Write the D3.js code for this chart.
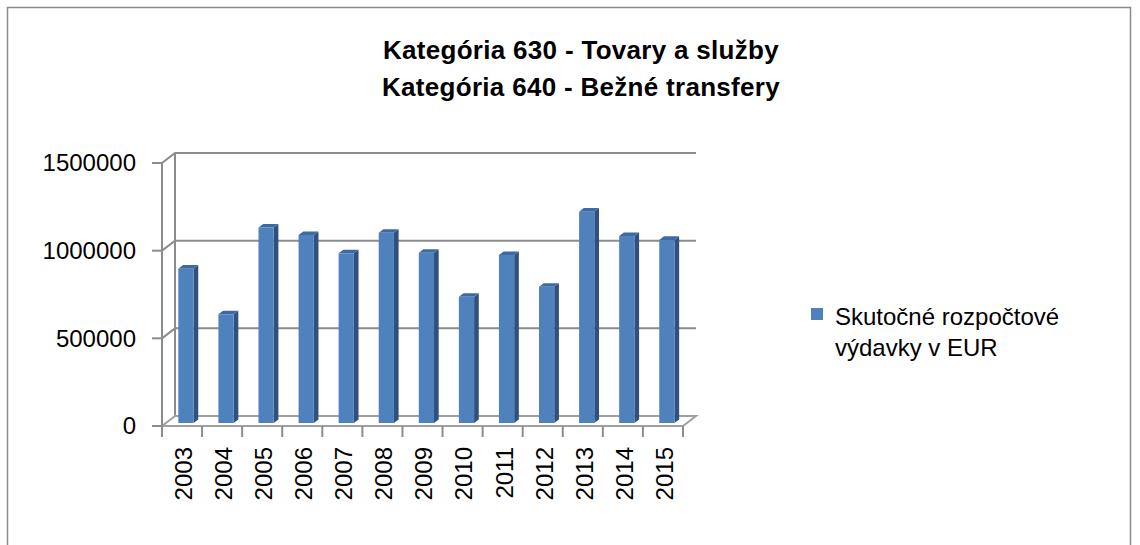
<!DOCTYPE html>
<html>
<head>
<meta charset="utf-8">
<script src="https://cdn.jsdelivr.net/npm/d3@7"></script>
<style>
  body { margin: 0; background: #fff; }
  svg { font-family: "Liberation Sans", Arial, sans-serif; }
</style>
</head>
<body>
<div id="chart"></div>
<script>
const years = ["2003", "2004", "2005", "2006", "2007", "2008", "2009", "2010", "2011", "2012", "2013", "2014", "2015"];
const spending = [880000, 620000, 1115000, 1072000, 968000, 1085000, 971000, 720000, 958000, 777000, 1205000, 1066000, 1044000];
const yTicks = [0, 500000, 1000000, 1500000];
const titleLines = ["Kategória 630 - Tovary a služby", "Kategória 640 - Bežné transfery"];
const legendLines = ["Skutočné rozpočtové", "výdavky v EUR"];

const width = 1140, height = 545;

const svg = d3.select("#chart")
    .append("svg")
    .attr("width", width)
    .attr("height", height);

// chart border
svg.append("rect")
    .attr("x", 7.5).attr("y", 7.5)
    .attr("width", 1123).attr("height", 560)
    .attr("fill", "none")
    .attr("stroke", "#8a8a8a")
    .attr("stroke-width", 1.5);

svg.append("g")
    .selectAll("text")
    .data(titleLines)
    .enter()
    .append("text")
    .attr("x", 581)
    .attr("y", (d, i) => 59 + i * 37)
    .attr("text-anchor", "middle")
    .attr("font-size", "26px")
    .attr("font-weight", "bold")
    .attr("letter-spacing", "0.3px")
    .text(d => d);

// 3d depth offset
const depthX = 13, depthY = -10;
const proj = (x, y, d) => [x + d * depthX, y + d * depthY];

const x = d3.scaleBand().domain(years).range([162, 683]);
const y = d3.scaleLinear().domain([0, 1500000]).range([426, 163]);

const gridColor = "#8c8c8c";
const grid = svg.append("g");

// back wall gridlines + side wall diagonals
yTicks.forEach(v => {
    const a = proj(162, y(v), 0);
    const b = proj(162, y(v), 1);
    const c = proj(683, y(v), 1);
    if (v > 0) {
        grid.append("path")
            .attr("d", d3.line()([a, b, c]))
            .attr("fill", "none")
            .attr("stroke", gridColor)
            .attr("stroke-width", 2);
    }
});

// back wall left edge
grid.append("line")
    .attr("x1", proj(162, y(0), 1)[0]).attr("y1", proj(162, y(0), 1)[1])
    .attr("x2", proj(162, y(1500000), 1)[0]).attr("y2", proj(162, y(1500000), 1)[1])
    .attr("stroke", gridColor).attr("stroke-width", 2);

// floor
const floor = [proj(162, y(0), 0), proj(683, y(0), 0), proj(683, y(0), 1), proj(162, y(0), 1)];
grid.append("path")
    .attr("d", d3.line()(floor) + "Z")
    .attr("fill", "none")
    .attr("stroke", "#a0a0a0")
    .attr("stroke-width", 2);

// value axis
grid.append("line")
    .attr("x1", 162).attr("y1", y(0))
    .attr("x2", 162).attr("y2", y(1500000))
    .attr("stroke", gridColor).attr("stroke-width", 2);

grid.selectAll(".ytick")
    .data(yTicks)
    .enter()
    .append("line")
    .attr("x1", 152).attr("x2", 162)
    .attr("y1", d => y(d)).attr("y2", d => y(d))
    .attr("stroke", gridColor).attr("stroke-width", 2);

svg.append("g")
    .selectAll("text")
    .data(yTicks)
    .enter()
    .append("text")
    .attr("x", 136)
    .attr("y", d => y(d))
    .attr("dy", "0.35em")
    .attr("text-anchor", "end")
    .attr("font-size", "24px")
    .attr("fill", "#000")
    .text(d => d);

// category axis ticks
const tickX = years.map(d => x(d)).concat([x.range()[1]]);
grid.selectAll(".xtick")
    .data(tickX)
    .enter()
    .append("line")
    .attr("x1", d => d).attr("x2", d => d)
    .attr("y1", y(0)).attr("y2", y(0) + 11)
    .attr("stroke", gridColor).attr("stroke-width", 2);

svg.append("g")
    .selectAll("text")
    .data(years)
    .enter()
    .append("text")
    .attr("transform", d => `translate(${x(d) + x.bandwidth() / 2 + 1.5}, 447) rotate(-90)`)
    .attr("dy", "0.35em")
    .attr("text-anchor", "end")
    .attr("font-size", "24px")
    .text(d => d);

// bars
const d0 = 0.3, d1 = 0.66;
const barW = x.bandwidth() * 0.38;
const bars = svg.append("g");

years.forEach((yr, i) => {
    const cx = x(yr) + x.bandwidth() / 2;
    const left = cx - barW / 2, right = cx + barW / 2;
    const top = y(spending[i]), bottom = y(0);

    const flt = proj(left, top, d0), frt = proj(right, top, d0);
    const frb = proj(right, bottom, d0), flb = proj(left, bottom, d0);
    const brt = proj(right, top, d1), blt = proj(left, top, d1);
    const brb = proj(right, bottom, d1);

    bars.append("path")
        .attr("d", d3.line()([frt, brt, brb, frb]) + "Z")
        .attr("fill", "#2f5180");
    bars.append("path")
        .attr("d", d3.line()([flt, frt, brt, blt]) + "Z")
        .attr("fill", "#3d6aa3");
    bars.append("path")
        .attr("d", d3.line()([flt, frt, frb, flb]) + "Z")
        .attr("fill", "#4f81bd");
});

// legend
const legend = svg.append("g");
legend.append("rect")
    .attr("x", 811).attr("y", 308)
    .attr("width", 12).attr("height", 12)
    .attr("fill", "#4f81bd");

legend.selectAll("text")
    .data(legendLines)
    .enter()
    .append("text")
    .attr("x", 835)
    .attr("y", (d, i) => 325 + i * 31)
    .attr("font-size", "24px")
    .text(d => d);
</script>
</body>
</html>
